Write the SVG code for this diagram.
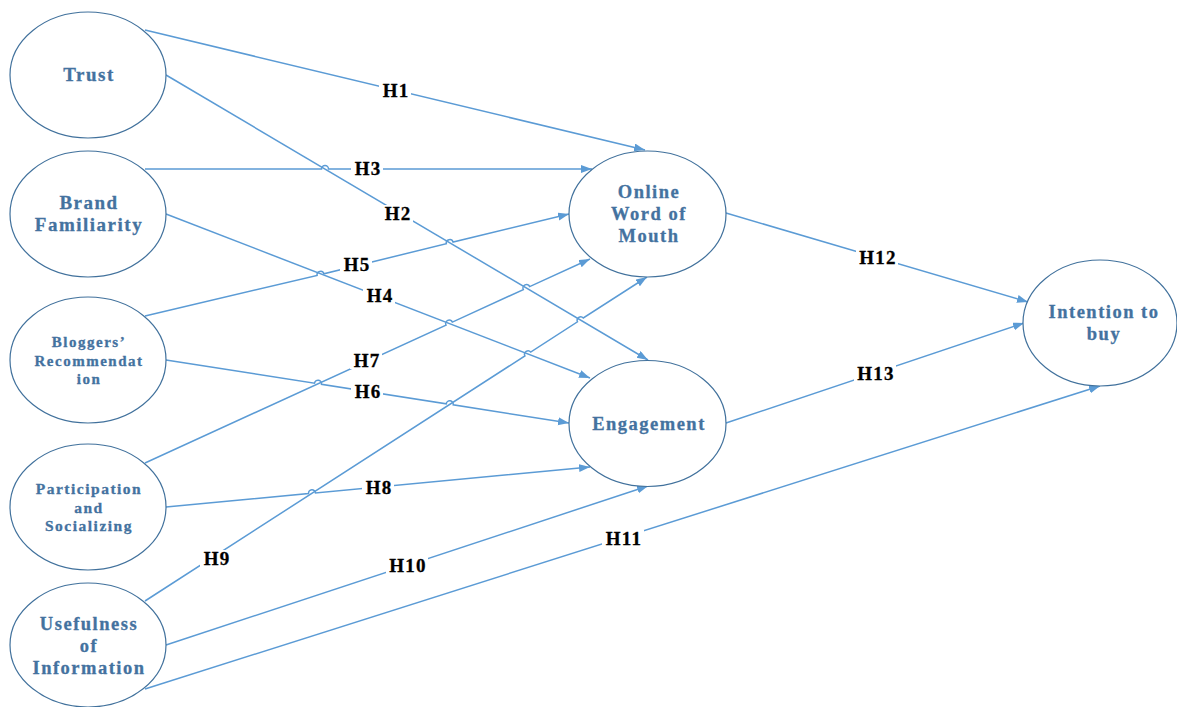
<svg xmlns="http://www.w3.org/2000/svg" width="1177" height="707" viewBox="0 0 1177 707">
<style>
.node ellipse{fill:#fff;stroke:#41719C;stroke-width:1.2}
.node text{font-family:"Liberation Serif","Times New Roman",serif;font-weight:bold;fill:#44729F;stroke:#44729F;stroke-width:0.3;text-anchor:middle;letter-spacing:1.5px}
.conn path{fill:none;stroke:#5B9BD5;stroke-width:1.5}
.lbl rect{fill:#fff}
.lbl text{font-family:"Liberation Serif","Times New Roman",serif;font-weight:bold;font-size:19px;fill:#000;stroke:#000;stroke-width:0.3;text-anchor:middle;letter-spacing:1.2px}
</style>
<defs>
<marker id="arr" markerUnits="userSpaceOnUse" markerWidth="12" markerHeight="9" refX="11" refY="4" orient="auto">
<path d="M0,0 L11,4 L0,8 z" fill="#5B9BD5"/>
</marker>
</defs>
<rect width="1177" height="707" fill="#fff"/>
<g id="connectors" class="conn">
<path marker-end="url(#arr)" d="M145,30 L645,150"/>
<path marker-end="url(#arr)" d="M166,75 L648,360"/>
<path marker-end="url(#arr)" d="M145,169 L321.5,169 A3.5,3.5 0 0 1 328.5,169 L592,169"/>
<path marker-end="url(#arr)" d="M166,214 L590,378"/>
<path marker-end="url(#arr)" d="M145,316 L317.1,275.4 A3.5,3.5 0 0 1 323.9,273.8 L446.3,243.7 A3.5,3.5 0 0 1 453.1,242.1 L569,214"/>
<path marker-end="url(#arr)" d="M166,360 L314.5,383.2 A3.5,3.5 0 0 1 321.5,384.3 L446.2,403.8 A3.5,3.5 0 0 1 453.2,404.8 L569,423"/>
<path marker-end="url(#arr)" d="M145,463 L446,325.1 A3.5,3.5 0 0 1 452.4,322.1 L523.3,289.6 A3.5,3.5 0 0 1 529.7,286.6 L590,259"/>
<path marker-end="url(#arr)" d="M166,507 L308.5,493.5 A3.5,3.5 0 0 1 315.5,492.9 L590,467"/>
<path marker-end="url(#arr)" d="M145,601 L524.9,355.9 A3.5,3.5 0 0 1 530.7,352.1 L577.5,321.8 A3.5,3.5 0 0 1 583.3,318 L647,277"/>
<path marker-end="url(#arr)" d="M166,645 L648,486"/>
<path marker-end="url(#arr)" d="M145,689 L1100,386"/>
<path marker-end="url(#arr)" d="M726,213 L1028,302"/>
<path marker-end="url(#arr)" d="M726,423 L1024,323"/>
</g>
<g id="labels" class="lbl">
<rect x="379" y="82" width="32" height="17"/><text x="396" y="97">H1</text>
<rect x="381" y="205" width="32" height="17"/><text x="398" y="220">H2</text>
<rect x="351" y="160" width="32" height="17"/><text x="368" y="175">H3</text>
<rect x="363" y="287" width="32" height="17"/><text x="380" y="302">H4</text>
<rect x="340" y="256" width="32" height="17"/><text x="357" y="271">H5</text>
<rect x="351" y="383" width="32" height="17"/><text x="368" y="398">H6</text>
<rect x="350" y="352" width="32" height="17"/><text x="367" y="367">H7</text>
<rect x="362" y="479" width="32" height="17"/><text x="379" y="494">H8</text>
<rect x="200" y="550" width="32" height="17"/><text x="217" y="565">H9</text>
<rect x="386" y="557" width="42" height="17"/><text x="408" y="572">H10</text>
<rect x="602" y="530" width="42" height="17"/><text x="624" y="545">H11</text>
<rect x="856" y="249" width="42" height="17"/><text x="878" y="264">H12</text>
<rect x="854" y="365" width="42" height="17"/><text x="876" y="380">H13</text>
</g>
<g id="trust" class="node">
<ellipse cx="88" cy="75" rx="78" ry="63"/>
<text x="89" y="81" font-size="19">Trust</text>
</g>
<g id="brand-familiarity" class="node">
<ellipse cx="88" cy="214" rx="78" ry="63"/>
<text x="89" y="209" font-size="19">Brand</text>
<text x="89" y="231" font-size="19">Familiarity</text>
</g>
<g id="bloggers-recommendation" class="node">
<ellipse cx="88" cy="360" rx="78" ry="63"/>
<text x="89" y="347" font-size="15">Bloggers’</text>
<text x="89" y="366" font-size="15">Recommendat</text>
<text x="89" y="384" font-size="15">ion</text>
</g>
<g id="participation" class="node">
<ellipse cx="88" cy="507" rx="78" ry="63"/>
<text x="89" y="494" font-size="15.5">Participation</text>
<text x="89" y="513" font-size="15.5">and</text>
<text x="89" y="531" font-size="15.5">Socializing</text>
</g>
<g id="usefulness" class="node">
<ellipse cx="88" cy="645" rx="78" ry="62"/>
<text x="89" y="630" font-size="18.5">Usefulness</text>
<text x="89" y="652" font-size="18.5">of</text>
<text x="89" y="674" font-size="18.5">Information</text>
</g>
<g id="online-wom" class="node">
<ellipse cx="647.5" cy="214" rx="78.5" ry="63"/>
<text x="649" y="198" font-size="18.5">Online</text>
<text x="649" y="220" font-size="18.5">Word of</text>
<text x="649" y="242" font-size="18.5">Mouth</text>
</g>
<g id="engagement" class="node">
<ellipse cx="647.5" cy="423.5" rx="78.5" ry="63"/>
<text x="649" y="430" font-size="18.5">Engagement</text>
</g>
<g id="intention" class="node">
<ellipse cx="1100" cy="323" rx="77" ry="63"/>
<text x="1104" y="318" font-size="18.5">Intention to</text>
<text x="1104" y="340" font-size="18.5">buy</text>
</g>
</svg>
